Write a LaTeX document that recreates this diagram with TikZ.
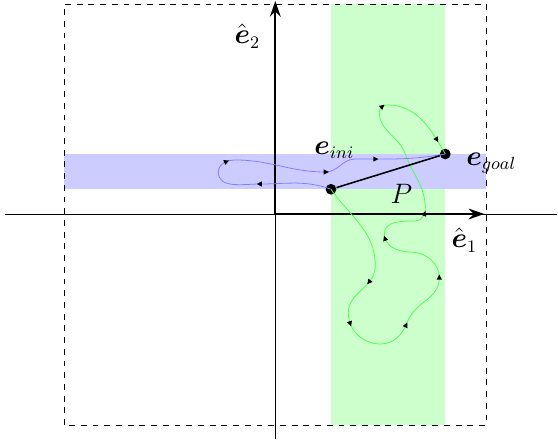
\documentclass[tikz,border=0pt]{standalone}
\usepackage{amsmath,amssymb}
\usetikzlibrary{arrows.meta,shapes.geometric}
\begin{document}
\begin{tikzpicture}[x=1.8cm,y=1.8cm,
  pt/.style={circle,fill,inner sep=0pt,minimum size=5.5pt},
  axis/.style={line width=1pt,-{Stealth[length=8pt,width=5.5pt]}},
  lbl/.style={font=\fontsize{13.5}{16}\selectfont},
  tipm/.style={sloped,allow upside down,isosceles triangle,
    isosceles triangle apex angle=55,fill=black,inner sep=0pt,minimum size=2.6pt}]
  \useasboundingbox (-2.753,-2.26) rectangle (2.827,2.14);
  % the two bands
  \fill[green!20] (0.557,-2.11) rectangle (1.70,2.10);
  \fill[blue!20] (-2.11,0.247) rectangle (2.11,0.60);
  \draw[dashed] (-2.11,-2.11) rectangle (2.11,2.10);
  % axes
  \coordinate (O) at (0,0);
  \draw (-2.70,0) -- (2.82,0);
  \draw (0,-2.25) -- (0,2.1);
  \draw[axis] (O) -- (2.09,0);
  \draw[axis] (O) -- (0,2.13);
  \node[lbl] (e1) at (1.89,-0.26) {$\hat{\boldsymbol{e}}_1$};
  \node[lbl] (e2) at (-0.28,1.78) {$\hat{\boldsymbol{e}}_2$};
  % the two points
  \node[pt] (ini) at (0.557,0.247) {};
  \node[pt] (goal) at (1.70,0.60) {};
  % the paths
  \draw[green!70]
    (ini.center) to[out=-55,in=90] (1.00,-0.52)
    to[out=-90,in=90] node[tipm,pos=0.3] {} (0.73,-0.99)
    to[out=-90,in=180] node[tipm,pos=0.2] {} (1.05,-1.30)
    to[out=0,in=-110] node[tipm,pos=0.9] {} (1.32,-1.08)
    to[out=70,in=-90] node[tipm,pos=1] {} (1.64,-0.64)
    to[out=90,in=0] (1.35,-0.38)
    to[out=180,in=-90] node[tipm,pos=0.85] {} (1.09,-0.20)
    to[out=90,in=180] (1.40,-0.07)
    to[out=0,in=-90] node[tipm,pos=0.7] {} (1.50,0.05)
    to[out=90,in=-70] (1.30,0.60)
    to[out=110,in=-90] (1.04,1.02)
    to[out=90,in=180] node[tipm,pos=0.5] {} (1.12,1.09)
    to[out=0,in=120] node[tipm,pos=0.8] {} (goal.center);
  \draw[blue!50]
    (ini.center) to[out=160,in=0] node[tipm,pos=1] {} (-0.15,0.30)
    to[out=180,in=-90] (-0.57,0.42)
    to[out=90,in=180] node[tipm,pos=0.6] {} (-0.40,0.54)
    to[out=0,in=180] node[tipm,pos=1] {} (0.50,0.42)
    to[out=0,in=180] (0.80,0.55)
    to[out=0,in=190] node[tipm,pos=0.2] {} (goal.center);
  \draw[thick] (ini) -- (goal);
  \node[lbl] (eini) at (0.59,0.64) {$\boldsymbol{e}_{ini}$};
  \node[lbl] (egoal) at (2.16,0.51) {$\boldsymbol{e}_{goal}$};
  \node[lbl] (p) at (1.26,0.20) {$P$};
\end{tikzpicture}
\end{document}
